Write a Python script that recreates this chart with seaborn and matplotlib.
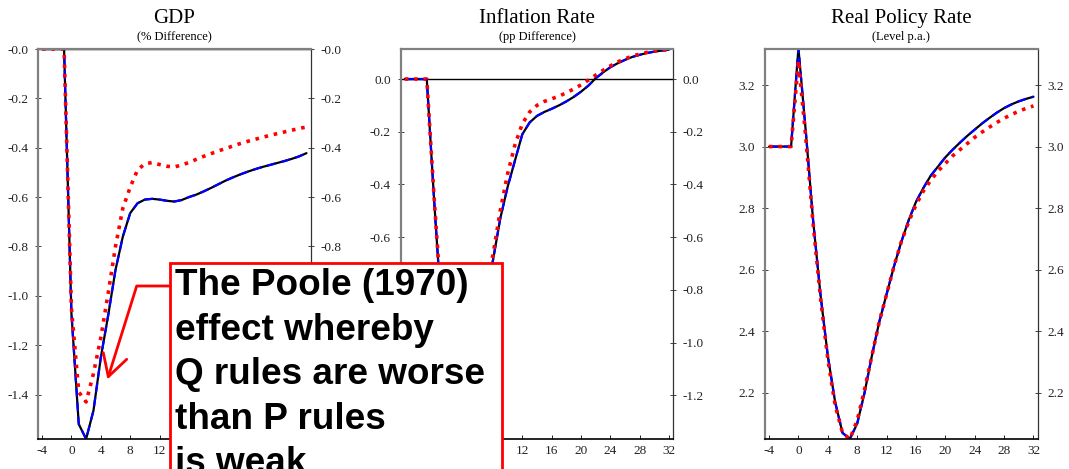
import numpy as np
import pandas as pd
import seaborn as sns
import matplotlib.pyplot as plt
from matplotlib.lines import Line2D
from matplotlib.patches import Rectangle
from matplotlib.ticker import FuncFormatter

# quarters relative to the shock
quarters = list(range(-4, 33))

# GDP (% difference) - P rule (solid / dashed) and Q rule (dotted)
gdp_p = [0, 0, 0, 0, -1.07, -1.52, -1.58, -1.465, -1.25, -1.08, -0.895, -0.76,
         -0.665, -0.625, -0.61, -0.607, -0.61, -0.615, -0.618, -0.612, -0.60,
         -0.59, -0.577, -0.563, -0.548, -0.533, -0.52, -0.508, -0.497, -0.487,
         -0.478, -0.47, -0.462, -0.454, -0.445, -0.435, -0.422]
gdp_q = [0, 0, 0, 0, -1.05, -1.39, -1.43, -1.315, -1.17, -0.99, -0.80, -0.645,
         -0.56, -0.49, -0.465, -0.46, -0.468, -0.475, -0.478, -0.47, -0.46,
         -0.447, -0.435, -0.424, -0.413, -0.403, -0.393, -0.383, -0.374, -0.366,
         -0.358, -0.35, -0.343, -0.336, -0.329, -0.322, -0.316]

# Inflation rate (pp difference)
infl_p = [0, 0, 0, 0, -0.46, -0.88, -1.08, -1.12, -1.08, -1.0, -0.92, -0.81,
          -0.69, -0.53, -0.41, -0.31, -0.21, -0.165, -0.14, -0.125, -0.113,
          -0.10, -0.085, -0.068, -0.048, -0.025, 0.003, 0.025, 0.045, 0.06,
          0.073, 0.084, 0.092, 0.099, 0.104, 0.108, 0.112]
infl_q = [0, 0, 0, 0, -0.45, -0.86, -1.05, -1.08, -1.03, -0.95, -0.86, -0.76,
          -0.67, -0.5, -0.36, -0.25, -0.17, -0.125, -0.1, -0.085, -0.075,
          -0.065, -0.052, -0.038, -0.022, -0.004, 0.015, 0.033, 0.05, 0.065,
          0.077, 0.087, 0.095, 0.101, 0.106, 0.109, 0.112]

# Real policy rate (level p.a.)
rate_p = [3.0, 3.0, 3.0, 3.0, 3.32, 3.05, 2.76, 2.52, 2.32, 2.17, 2.07, 2.05,
          2.10, 2.20, 2.32, 2.43, 2.52, 2.61, 2.69, 2.76, 2.82, 2.865, 2.905,
          2.935, 2.965, 2.99, 3.013, 3.035, 3.055, 3.075, 3.093, 3.11, 3.125,
          3.137, 3.147, 3.155, 3.162]
rate_q = [3.0, 3.0, 3.0, 3.0, 3.28, 3.03, 2.75, 2.51, 2.31, 2.16, 2.07, 2.05,
          2.11, 2.21, 2.32, 2.43, 2.52, 2.61, 2.69, 2.755, 2.81, 2.855, 2.89,
          2.92, 2.945, 2.97, 2.99, 3.01, 3.03, 3.047, 3.063, 3.078, 3.092,
          3.104, 3.115, 3.124, 3.132]

titles = ["GDP", "Inflation Rate", "Real Policy Rate"]
subtitles = ["(% Difference)", "(pp Difference)", "(Level p.a.)"]
gdp_ticks = [0.0, -0.2, -0.4, -0.6, -0.8, -1.0, -1.2, -1.4]
infl_ticks = [0.0, -0.2, -0.4, -0.6, -0.8, -1.0, -1.2]
rate_ticks = [2.2, 2.4, 2.6, 2.8, 3.0, 3.2]
x_ticks = [-4, 0, 4, 8, 12, 16, 20, 24, 28, 32]

note_lines = ["The Poole (1970)", "effect whereby", "Q rules are worse",
              "than P rules", "is weak"]

sns.set_style("white")
plt.rcParams['font.family'] = ['Liberation Serif', 'DejaVu Serif']
plt.rcParams['axes.unicode_minus'] = False
plt.rcParams['text.color'] = 'black'
plt.rcParams['xtick.color'] = '#222222'
plt.rcParams['ytick.color'] = '#222222'

W, H = 1069, 469
fig = plt.figure(figsize=(W / 100, H / 100), dpi=100)

panels = [
    (38, gdp_p, gdp_q, (-1.58, 0.0), gdp_ticks, lambda v, p: "-%.1f" % abs(v)),
    (400.7, infl_p, infl_q, (-1.366, 0.114), infl_ticks,
     lambda v, p: "%.1f" % (0.0 if abs(v) < 1e-9 else v)),
    (765, rate_p, rate_q, (2.05, 3.317), rate_ticks, lambda v, p: "%.1f" % v),
]

for i, (left, ser_p, ser_q, ylim, yticks, fmt) in enumerate(panels):
    ax = fig.add_axes([left / W, 30 / H, 272.5 / W, 390 / H])
    df = pd.DataFrame({"quarter": quarters, "p": ser_p, "q": ser_q})
    if i < 2:
        ax.axhline(0, color="black", lw=1.0, zorder=1)
    sns.lineplot(data=df, x="quarter", y="p", ax=ax, color="black", lw=1.6)
    sns.lineplot(data=df, x="quarter", y="p", ax=ax, color="#0000ff", lw=1.6,
                 linestyle=(0, (4, 2.5)))
    sns.lineplot(data=df, x="quarter", y="q", ax=ax, color="#ff0000", lw=2.6,
                 linestyle=(0, (1, 1.6)))
    ax.set_xlim(-4.55, 32.55)
    ax.set_ylim(*ylim)
    ax.set_xticks(x_ticks)
    ax.set_yticks(yticks)
    ax.yaxis.set_major_formatter(FuncFormatter(fmt))
    ax.set_xlabel("")
    ax.set_ylabel("")
    ax.tick_params(axis="x", direction="in", length=3, width=0.7, labelsize=9.5,
                   pad=4, bottom=True)
    ax.tick_params(axis="y", direction="inout", length=4, width=0.6, labelsize=9.5,
                   left=True, right=True, labelleft=True, labelright=True, pad=5)
    for side in ["left", "top"]:
        ax.spines[side].set_color("#808080")
        ax.spines[side].set_linewidth(1.6)
    ax.spines["right"].set_color("#333333")
    ax.spines["right"].set_linewidth(0.9)
    ax.spines["bottom"].set_color("black")
    ax.spines["bottom"].set_linewidth(1.2)
    ax.text(0.5, 1.077, titles[i], transform=ax.transAxes, ha="center",
            va="center", fontsize=15)
    ax.text(0.5, 1.031, subtitles[i], transform=ax.transAxes, ha="center",
            va="center", fontsize=9)


def fx(x):
    return x / W


def fy(y):
    return 1 - y / H


# annotation box with connector arrow
fig.add_artist(Rectangle((fx(170), fy(490)), (501.7 - 170) / W, (490 - 263.3) / H,
                         transform=fig.transFigure, facecolor="white",
                         edgecolor="#ff0000", lw=2, zorder=5))
for k, line in enumerate(note_lines):
    fig.text(fx(175), fy(295 + 44.5 * k), line, fontsize=26.6, fontweight="bold",
             family="Liberation Sans", va="baseline", ha="left", color="black",
             zorder=6)
fig.add_artist(Line2D([fx(170), fx(136.7), fx(108.3)], [fy(286), fy(286), fy(376.7)],
                      transform=fig.transFigure, color="#ff0000", lw=2, zorder=5))
fig.add_artist(Line2D([fx(103.3), fx(108.3), fx(126.7)], [fy(352.7), fy(376.7), fy(359.3)],
                      transform=fig.transFigure, color="#ff0000", lw=2, zorder=5))

fig.savefig("out.png", dpi=100)
